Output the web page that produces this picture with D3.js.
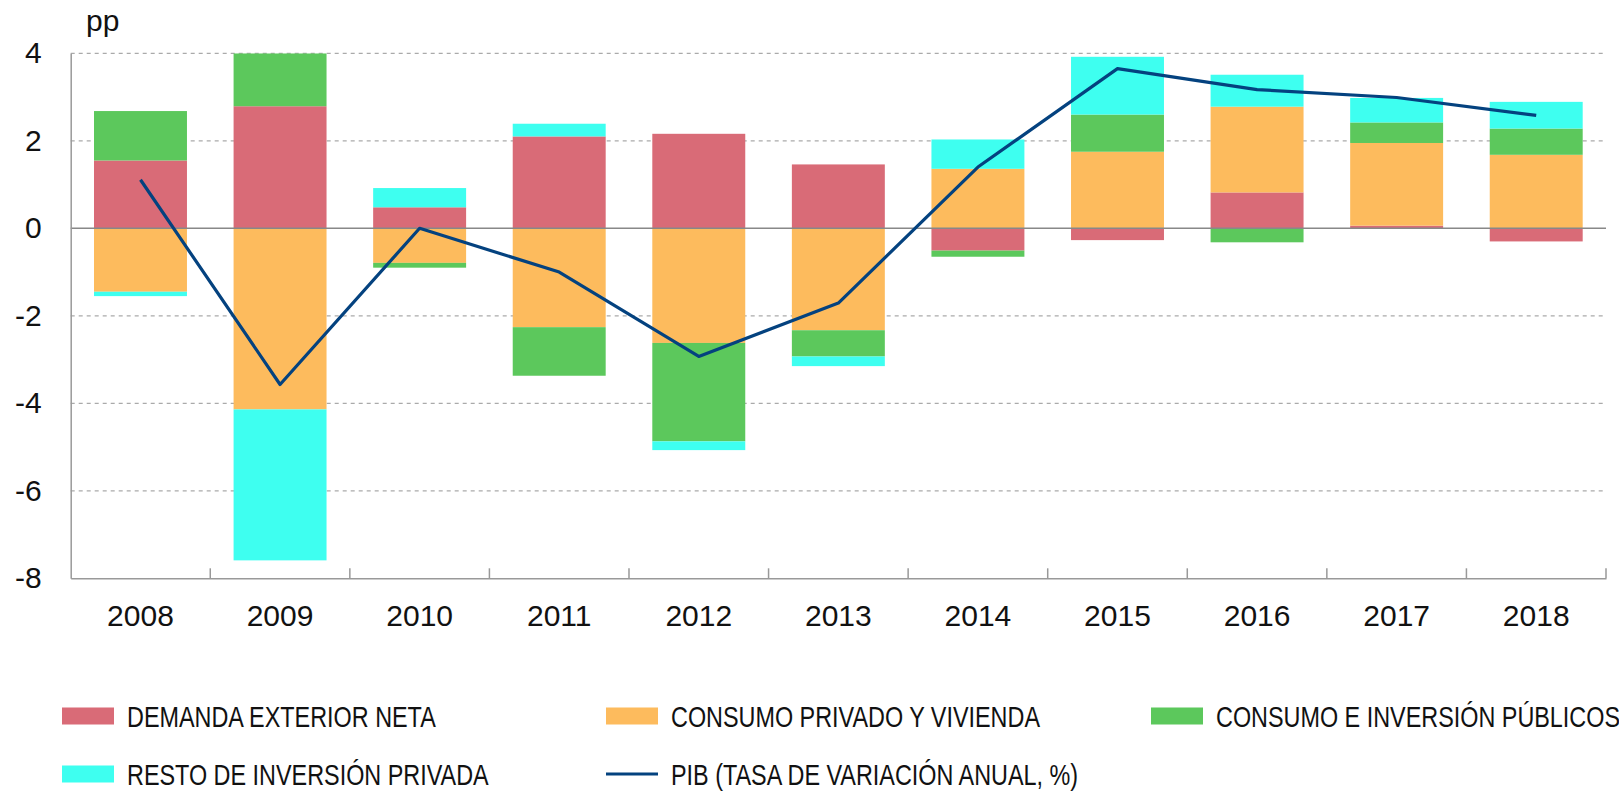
<!DOCTYPE html>
<html>
<head>
<meta charset="utf-8">
<script src="https://cdn.jsdelivr.net/npm/d3@7"></script>
<style>
  body { margin: 0; background: #fff; }
  svg { display: block; }
</style>
</head>
<body>
<div id="wrapper"></div>
<script>
// values in pp
const years = ['2008', '2009', '2010', '2011', '2012', '2013', '2014', '2015', '2016', '2017', '2018'];
const demandaExterior = [1.55, 2.79, 0.48, 2.10, 2.16, 1.46, -0.51, -0.27, 0.82, 0.06, -0.30];
const consumoPrivado = [-1.45, -4.14, -0.79, -2.26, -2.62, -2.33, 1.36, 1.75, 1.96, 1.89, 1.68];
const consumoPublico = [1.13, 1.21, -0.11, -1.11, -2.25, -0.60, -0.14, 0.85, -0.32, 0.47, 0.60];
const restoInversion = [-0.10, -3.45, 0.44, 0.29, -0.20, -0.22, 0.67, 1.32, 0.73, 0.56, 0.61];
const pib = [1.11, -3.57, 0.00, -1.00, -2.93, -1.71, 1.40, 3.65, 3.17, 2.99, 2.58];
const yTicks = [-8, -6, -4, -2, 0, 2, 4];

const seriesNames = ['DEMANDA EXTERIOR NETA', 'CONSUMO PRIVADO Y VIVIENDA', 'CONSUMO E INVERSIÓN PÚBLICOS', 'RESTO DE INVERSIÓN PRIVADA'];
const seriesKeys = ['dem', 'cpriv', 'cpub', 'resto'];
const seriesColors = ['#d96b77', '#fdbb5d', '#5cc85c', '#3efff0'];
const lineName = 'PIB (TASA DE VARIACIÓN ANUAL, %)';
const lineColor = '#04427f';

const table = years.map((y, i) => ({
    year: y,
    dem: demandaExterior[i],
    cpriv: consumoPrivado[i],
    cpub: consumoPublico[i],
    resto: restoInversion[i],
    pib: pib[i]
}));

const dimensions = {
    width: 1619,
    height: 791,
    margin: { top: 53.3, right: 13, bottom: 212.7, left: 70.7 }
};
dimensions.boundWidth = dimensions.width - dimensions.margin.left - dimensions.margin.right;
dimensions.boundHeight = dimensions.height - dimensions.margin.top - dimensions.margin.bottom;

const svg = d3.select('#wrapper')
    .append('svg')
    .attr('width', dimensions.width)
    .attr('height', dimensions.height)
    .style('font-family', '"Liberation Sans", Arial, sans-serif');

const bounds = svg.append('g')
    .attr('transform', `translate(${dimensions.margin.left}, ${dimensions.margin.top})`);

const xScale = d3.scaleBand()
    .domain(years)
    .range([0, dimensions.boundWidth])
    .paddingInner(0.334)
    .paddingOuter(0.167);

const yScale = d3.scaleLinear()
    .domain([-8, 4])
    .range([dimensions.boundHeight, 0]);

bounds.append('clipPath').attr('id', 'plot-clip')
    .append('rect')
    .attr('width', dimensions.boundWidth)
    .attr('height', dimensions.boundHeight);

// grid
bounds.append('g')
    .selectAll('line')
    .data(yTicks.filter(t => t !== 0 && t !== -8))
    .join('line')
    .attr('x1', 0)
    .attr('x2', dimensions.boundWidth)
    .attr('y1', d => yScale(d))
    .attr('y2', d => yScale(d))
    .attr('stroke', '#aaa')
    .attr('stroke-width', 1.2)
    .attr('stroke-dasharray', '4,4');

// stacked bars
const stack = d3.stack()
    .keys(seriesKeys)
    .offset(d3.stackOffsetDiverging);
const stacked = stack(table);

bounds.append('g')
    .attr('clip-path', 'url(#plot-clip)')
    .selectAll('g')
    .data(stacked)
    .join('g')
    .attr('fill', (d, i) => seriesColors[i])
    .selectAll('rect')
    .data(d => d)
    .join('rect')
    .attr('x', d => xScale(d.data.year))
    .attr('width', xScale.bandwidth())
    .attr('y', d => yScale(Math.max(d[0], d[1])))
    .attr('height', d => Math.abs(yScale(d[0]) - yScale(d[1])));

// zero line
bounds.append('line')
    .attr('x1', 0)
    .attr('x2', dimensions.boundWidth)
    .attr('y1', yScale(0))
    .attr('y2', yScale(0))
    .attr('stroke', '#888')
    .attr('stroke-width', 1.5);

// axes
const yAxis = bounds.append('g')
    .call(d3.axisLeft(yScale).tickValues(yTicks).tickSize(0).tickPadding(29)
        .tickFormat(d => String(d)));
yAxis.select('.domain').attr('stroke', '#999').attr('stroke-width', 1.5);
yAxis.selectAll('text')
    .attr('font-size', 30)
    .attr('fill', '#111')
    .attr('font-family', '"Liberation Sans", Arial, sans-serif');

const xAxis = bounds.append('g')
    .attr('transform', `translate(0, ${dimensions.boundHeight})`)
    .call(d3.axisBottom(xScale).tickSize(0).tickPadding(26));
xAxis.select('.domain').attr('stroke', '#999').attr('stroke-width', 1.5);
xAxis.selectAll('text')
    .attr('font-size', 30)
    .attr('fill', '#111')
    .attr('font-family', '"Liberation Sans", Arial, sans-serif');

// category separators on the x axis
const boundaries = years.map(y => xScale(y) - xScale.step() * xScale.paddingInner() / 2).slice(1)
    .concat([dimensions.boundWidth]);
bounds.append('g')
    .selectAll('line')
    .data(boundaries)
    .join('line')
    .attr('x1', d => d)
    .attr('x2', d => d)
    .attr('y1', dimensions.boundHeight)
    .attr('y2', dimensions.boundHeight - 10)
    .attr('stroke', '#999')
    .attr('stroke-width', 1.5);

// PIB line
const lineGenerator = d3.line()
    .x(d => xScale(d.year) + xScale.bandwidth() / 2)
    .y(d => yScale(d.pib));

bounds.append('path')
    .attr('d', lineGenerator(table))
    .attr('fill', 'none')
    .attr('stroke', lineColor)
    .attr('stroke-width', 3.2)
    .attr('stroke-linejoin', 'round');

// unit label
svg.append('text')
    .attr('x', 86)
    .attr('y', 31)
    .attr('font-size', 30)
    .attr('fill', '#111')
    .text('pp');

// legend
const legendItems = [
    { name: seriesNames[0], color: seriesColors[0], type: 'rect', x: 62, y: 716 },
    { name: seriesNames[1], color: seriesColors[1], type: 'rect', x: 606, y: 716 },
    { name: seriesNames[2], color: seriesColors[2], type: 'rect', x: 1151, y: 716 },
    { name: seriesNames[3], color: seriesColors[3], type: 'rect', x: 62, y: 774 },
    { name: lineName, color: lineColor, type: 'line', x: 606, y: 774 }
];

const legend = svg.append('g');
const items = legend.selectAll('g')
    .data(legendItems)
    .join('g')
    .attr('transform', d => `translate(${d.x}, ${d.y})`);

items.filter(d => d.type === 'rect')
    .append('rect')
    .attr('x', 0)
    .attr('y', -8.5)
    .attr('width', 52)
    .attr('height', 17)
    .attr('fill', d => d.color);

items.filter(d => d.type === 'line')
    .append('line')
    .attr('x1', 0)
    .attr('x2', 52)
    .attr('y1', 0)
    .attr('y2', 0)
    .attr('stroke', d => d.color)
    .attr('stroke-width', 3.2);

const labels = items.append('text')
    .attr('font-size', 29)
    .attr('fill', '#111')
    .text(d => d.name);

// the reference uses a condensed face; squeeze the regular one to the same width
const firstWidth = labels.node().getComputedTextLength();
const squeeze = 309 / firstWidth;
labels.attr('transform', `translate(65, 10.5) scale(${squeeze}, 1)`);
</script>
</body>
</html>
